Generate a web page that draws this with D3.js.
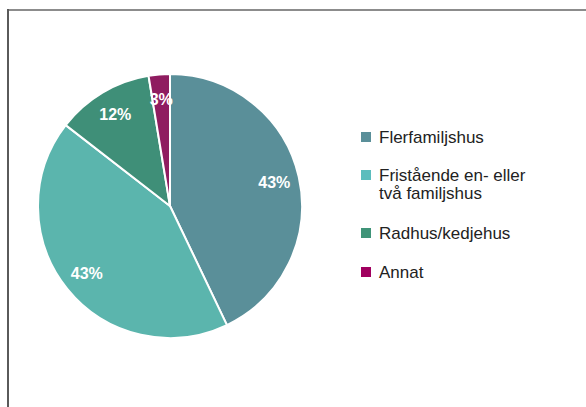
<!DOCTYPE html>
<html>
<head>
<meta charset="utf-8">
<script src="https://cdn.jsdelivr.net/npm/d3@7"></script>
<style>
  body { margin: 0; background: #fff; }
  svg { display: block; }
</style>
</head>
<body>
<svg id="svg"></svg>
<script>
const width = 586;
const height = 407;

// data
const categories = ["Flerfamiljshus", "Fristående en- eller två familjshus", "Radhus/kedjehus", "Annat"];
const legendLines = [["Flerfamiljshus"], ["Fristående en- eller", "två familjshus"], ["Radhus/kedjehus"], ["Annat"]];
const shares = [42.9, 42.6, 11.9, 2.6];
const shareLabels = ["43%", "43%", "12%", "3%"];
const colors = ["#5a8f99", "#5bb5ad", "#3f8f78", "#8f1c60"];
const swatchColors = ["#5a8f99", "#5bbdbd", "#3f9478", "#a0005f"];

const svg = d3.select("#svg")
  .attr("width", width)
  .attr("height", height);

svg.append("rect")
  .attr("width", width)
  .attr("height", height)
  .attr("fill", "#fff");

// frame
svg.append("line")
  .attr("x1", 7).attr("x2", width)
  .attr("y1", 10).attr("y2", 10)
  .attr("stroke", "#8c8c8c")
  .attr("stroke-width", 2);
svg.append("line")
  .attr("x1", 8).attr("x2", 8)
  .attr("y1", 9).attr("y2", height)
  .attr("stroke", "#5a5a5a")
  .attr("stroke-width", 2);

const cx = 170, cy = 206, radius = 132;

const pie = d3.pie().sort(null).value(d => d);
const arcs = pie(shares);
const arc = d3.arc().innerRadius(0).outerRadius(radius);
const labelArc = d3.arc().innerRadius(radius * 0.81).outerRadius(radius * 0.81);

const g = svg.append("g").attr("transform", `translate(${cx},${cy})`);

g.selectAll("path")
  .data(arcs)
  .enter().append("path")
  .attr("d", arc)
  .attr("fill", (d, i) => colors[i])
  .attr("stroke", "#fff")
  .attr("stroke-width", 2)
  .attr("stroke-linejoin", "round");

g.selectAll("text")
  .data(arcs)
  .enter().append("text")
  .attr("transform", d => `translate(${labelArc.centroid(d)})`)
  .attr("text-anchor", "middle")
  .attr("dy", "0.36em")
  .attr("fill", "#fff")
  .style("font-family", "'Liberation Sans', Arial, sans-serif")
  .style("font-weight", "bold")
  .style("font-size", "16px")
  .text((d, i) => shareLabels[i]);

// legend
const legendY = [137, 175, 233, 272];
const legend = svg.append("g").attr("transform", "translate(361,0)");

const items = legend.selectAll("g")
  .data(categories)
  .enter().append("g")
  .attr("transform", (d, i) => `translate(0,${legendY[i]})`);

items.append("rect")
  .attr("x", 0)
  .attr("y", -5)
  .attr("width", 10)
  .attr("height", 10)
  .attr("fill", (d, i) => swatchColors[i]);

items.append("text")
  .attr("x", 18)
  .attr("fill", "#222")
  .style("font-family", "'Liberation Sans', Arial, sans-serif")
  .style("font-size", "17px")
  .selectAll("tspan")
  .data((d, i) => legendLines[i])
  .enter().append("tspan")
  .attr("x", 18)
  .attr("dy", (d, j) => j === 0 ? "0.36em" : "18px")
  .text(d => d);
</script>
</body>
</html>
